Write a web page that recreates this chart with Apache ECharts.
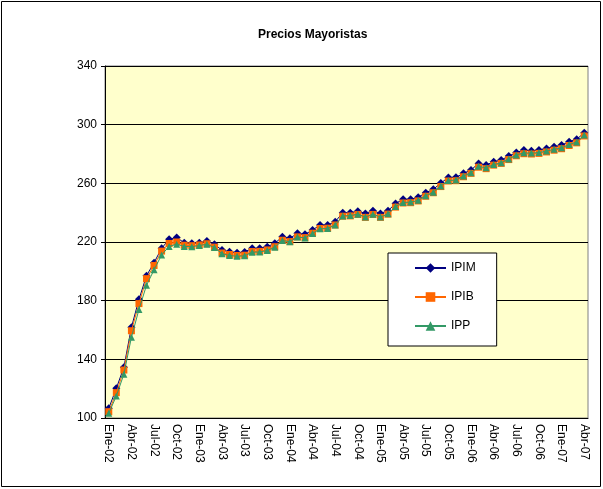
<!DOCTYPE html>
<html>
<head>
<meta charset="utf-8">
<script src="https://cdn.jsdelivr.net/npm/echarts@6/dist/echarts.min.js"></script>
<style>html,body{margin:0;padding:0;background:#fff;}#c{width:603px;height:489px;}</style>
</head>
<body>
<div id="c"></div>
<script>
var categories = [
 'Ene-02','Feb-02','Mar-02','Abr-02','May-02','Jun-02','Jul-02','Ago-02','Sep-02','Oct-02','Nov-02','Dic-02',
 'Ene-03','Feb-03','Mar-03','Abr-03','May-03','Jun-03','Jul-03','Ago-03','Sep-03','Oct-03','Nov-03','Dic-03',
 'Ene-04','Feb-04','Mar-04','Abr-04','May-04','Jun-04','Jul-04','Ago-04','Sep-04','Oct-04','Nov-04','Dic-04',
 'Ene-05','Feb-05','Mar-05','Abr-05','May-05','Jun-05','Jul-05','Ago-05','Sep-05','Oct-05','Nov-05','Dic-05',
 'Ene-06','Feb-06','Mar-06','Abr-06','May-06','Jun-06','Jul-06','Ago-06','Sep-06','Oct-06','Nov-06','Dic-06',
 'Ene-07','Feb-07','Mar-07','Abr-07'
];
var IPIM = [106.6,120.2,134.6,161.8,180.9,197.0,205.9,215.7,221.8,223.0,219.5,219.1,
 219.5,220.7,218.4,214.5,213.4,212.7,213.2,215.7,215.7,216.8,219.1,223.6,
 222.5,225.9,225.2,228.2,231.6,231.6,233.8,240.0,240.0,241.0,239.5,241.3,
 239.5,241.3,246.3,249.1,249.1,250.5,253.6,255.9,260.2,264.0,264.1,266.8,
 269.1,273.6,272.5,274.7,275.9,278.6,281.0,282.7,282.2,282.7,283.8,285.0,
 286.1,288.4,290.0,294.5];
var IPIB = [104.3,117.3,132.7,159.5,178.0,195.0,204.0,213.8,219.0,220.0,217.8,217.5,
 218.0,218.8,216.5,212.5,211.5,210.8,211.0,213.5,213.6,214.6,216.8,221.2,
 220.3,223.5,223.0,226.0,229.2,229.4,231.6,237.6,237.8,238.8,236.8,238.8,
 236.8,239.0,243.8,246.6,246.8,248.0,251.2,253.6,257.8,261.6,261.8,264.5,
 266.8,271.0,270.0,272.4,273.6,276.2,278.8,280.2,280.0,280.4,281.4,282.6,
 283.6,285.8,287.6,292.3];
var IPP = [103.2,115.0,129.8,155.0,174.0,190.5,201.0,211.2,217.0,218.5,217.0,216.8,
 217.6,218.4,216.2,212.0,210.8,210.2,210.6,213.0,213.2,214.2,216.4,221.0,
 220.2,223.4,222.8,225.8,229.0,229.2,231.6,237.8,238.0,239.0,237.0,239.0,
 237.0,239.2,244.2,247.0,247.2,248.4,251.6,254.0,258.2,262.0,262.2,265.0,
 267.2,271.6,270.6,272.8,274.0,276.6,279.4,280.8,280.6,281.0,282.0,283.2,
 284.2,286.4,288.2,293.0];
var seriesNames = ['IPIM','IPIB','IPP'];
var yTicks = {min:100, max:340, interval:40};

var font = 'Arial, "Liberation Sans", sans-serif';
var chart = echarts.init(document.getElementById('c'), null, {renderer:'canvas'});
chart.setOption({
  animation:false,
  backgroundColor:'#fff',
  title:{text:'Precios Mayoristas', left:253, top:24,
    textStyle:{fontFamily:font, fontSize:12, fontWeight:'bold', color:'#000'}},
  graphic:[{type:'rect', shape:{x:1.5,y:1.5,width:599,height:485}, style:{fill:null, stroke:'#000', lineWidth:1}, z:-1}],
  grid:{left:105, top:66, right:15, bottom:71, show:true, backgroundColor:'#FFFFCC', borderColor:'#808080', borderWidth:1},
  legend:{
    orient:'vertical', left:388, top:253,
    padding:[9,21,14,26], itemGap:17, itemWidth:31, itemHeight:12,
    backgroundColor:'#fff', borderColor:'#000', borderWidth:1,
    textStyle:{fontFamily:font, fontSize:12, color:'#000'},
    data:seriesNames
  },
  xAxis:{
    type:'category', data:categories, boundaryGap:true,
    axisLine:{lineStyle:{color:'#000', width:1}},
    axisTick:{interval:2, length:4, lineStyle:{color:'#000'}},
    axisLabel:{interval:2, rotate:-90, fontFamily:font, fontSize:12, color:'#000', margin:6},
    splitLine:{show:false}
  },
  yAxis:{
    type:'value', min:yTicks.min, max:yTicks.max, interval:yTicks.interval,
    axisLine:{show:true, lineStyle:{color:'#000', width:1}},
    axisTick:{show:true, length:4, lineStyle:{color:'#000'}},
    axisLabel:{fontFamily:font, fontSize:12, color:'#000', margin:8},
    splitLine:{show:true, lineStyle:{color:'#000', width:1}}
  },
  series:[
    {name:seriesNames[0], type:'line', data:IPIM, symbol:'diamond', symbolSize:8, showAllSymbol:true,
     itemStyle:{color:'#000080'}, lineStyle:{color:'#000080', width:1}, z:2},
    {name:seriesNames[1], type:'line', data:IPIB, symbol:'rect', symbolSize:7, showAllSymbol:true,
     itemStyle:{color:'#FF6600'}, lineStyle:{color:'#FF6600', width:1}, z:3},
    {name:seriesNames[2], type:'line', data:IPP, symbol:'triangle', symbolSize:7, showAllSymbol:true,
     itemStyle:{color:'#339966'}, lineStyle:{color:'#339966', width:1}, z:4}
  ]
});
</script>
</body>
</html>
